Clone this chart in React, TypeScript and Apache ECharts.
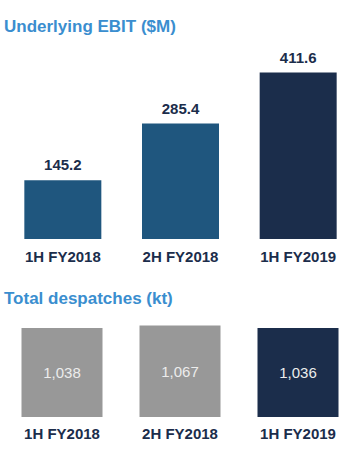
import React, { useEffect, useRef } from "react";
import * as echarts from "echarts";

const categories = ["1H FY2018", "2H FY2018", "1H FY2019"];
const ebitValues = [145.2, 285.4, 411.6];
const despatchValues = [1038, 1067, 1036];
const ebitColors = ["#1f567e", "#1f567e", "#1b2d4b"];
const despatchColors = ["#989898", "#989898", "#1b2d4b"];

const FONT = "'Liberation Sans', Arial, sans-serif";

export default function App() {
  const ref = useRef<HTMLDivElement>(null);
  useEffect(() => {
    document.body.style.margin = "0";
    const chart = echarts.init(ref.current!, null, { renderer: "svg" });
    chart.setOption({
      animation: false,
      backgroundColor: "#ffffff",
      title: [
        {
          text: "Underlying EBIT ($M)",
          left: 4,
          top: 18,
          padding: 0,
          textStyle: { fontFamily: FONT, fontWeight: "bold", fontSize: 17, color: "#3a8ecf" },
        },
        {
          text: "Total despatches (kt)",
          left: 4,
          top: 290,
          padding: 0,
          textStyle: { fontFamily: FONT, fontWeight: "bold", fontSize: 17, color: "#3a8ecf" },
        },
      ],
      grid: [
        { left: 4, right: -10, top: 57, height: 182 },
        { left: 3, right: -10, top: 314, height: 103 },
      ],
      xAxis: [
        {
          type: "category",
          gridIndex: 0,
          data: categories,
          axisLine: { show: false },
          axisTick: { show: false },
          axisLabel: { fontFamily: FONT, fontWeight: "bold", fontSize: 15, color: "#1b2d4b", margin: 10 },
        },
        {
          type: "category",
          gridIndex: 1,
          data: categories,
          axisLine: { show: false },
          axisTick: { show: false },
          axisLabel: { fontFamily: FONT, fontWeight: "bold", fontSize: 15, color: "#1b2d4b", margin: 9 },
        },
      ],
      yAxis: [
        { type: "value", gridIndex: 0, min: 0, max: 450, show: false, splitLine: { show: false } },
        { type: "value", gridIndex: 1, min: 0, max: 1200, show: false, splitLine: { show: false } },
      ],
      series: [
        {
          type: "bar",
          xAxisIndex: 0,
          yAxisIndex: 0,
          barWidth: 77,
          data: ebitValues.map((v, i) => ({ value: v, itemStyle: { color: ebitColors[i] } })),
          label: {
            show: true,
            position: "top",
            distance: 8,
            fontFamily: FONT,
            fontWeight: "bold",
            fontSize: 15,
            color: "#1b2d4b",
          },
        },
        {
          type: "bar",
          xAxisIndex: 1,
          yAxisIndex: 1,
          barWidth: 81,
          data: despatchValues.map((v, i) => ({ value: v, itemStyle: { color: despatchColors[i] } })),
          label: {
            show: true,
            position: "inside",
            fontFamily: FONT,
            fontSize: 15,
            color: "#ececec",
            formatter: (p: any) => p.value.toLocaleString("en-US"),
          },
        },
      ],
    });
    return () => chart.dispose();
  }, []);
  return <div ref={ref} style={{ width: 357, height: 450 }} />;
}
